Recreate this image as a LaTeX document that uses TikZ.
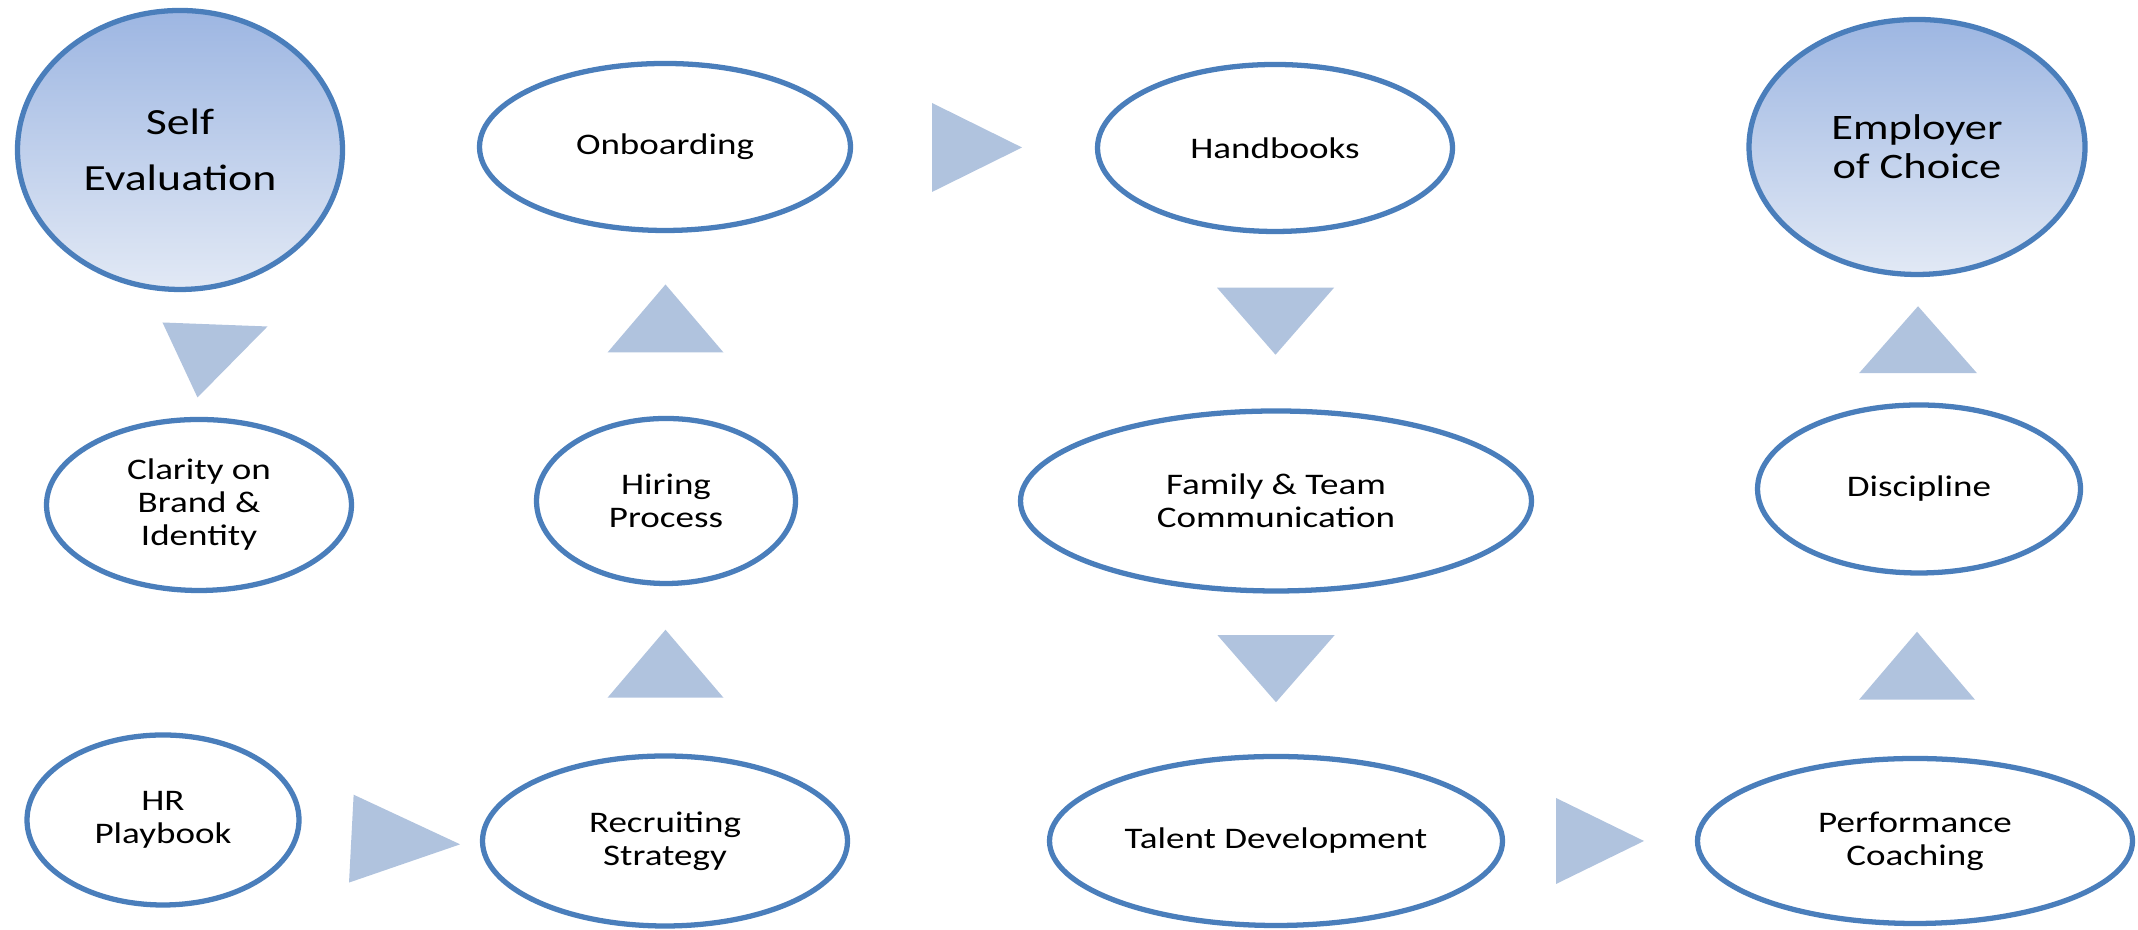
\documentclass[tikz,border=0pt]{standalone}
\usepackage{fontspec}
\setmainfont{Carlito}[FakeStretch=1.24]
\usetikzlibrary{shapes.geometric,calc}
\definecolor{rim}{HTML}{4A7EBB}
\definecolor{pale}{HTML}{B0C3DE}
\definecolor{skytop}{HTML}{9DB6E2}
\definecolor{skybot}{HTML}{E2E9F5}

\tikzset{
  bubble/.style={ellipse,draw=rim,line width=1.5pt,fill=white,inner sep=0pt,
    align=center,font=\fontsize{8.5}{9.4}\selectfont},
  goal/.style={bubble,top color=skytop,bottom color=skybot},
  % block arrow pointing right: #1 = base, #2 = length
  pics/flowtri/.style 2 args={code={
    \fill[pale] (-#2/2,-#1/2) -- (-#2/2,#1/2) -- (#2/2,0) -- cycle;}}
}

\begin{document}
\begin{tikzpicture}[x=0.1mm,y=0.1mm]
  \useasboundingbox (0,0) rectangle (2138,930);
  % start and end
  \node[goal,minimum width=32.5mm,minimum height=27.9mm,
    font=\fontsize{10.5}{16}\selectfont] (self) at (180,780) {Self\\Evaluation};
  \node[goal,minimum width=33.6mm,minimum height=25.5mm,
    font=\fontsize{10.2}{11.2}\selectfont] (emp) at (1917,783) {Employer\\of Choice};
  % steps
  \foreach \n/\x/\y/\w/\h/\t in {
    onb/665/783/37.1/16.7/Onboarding,
    hb/1275/782/35.5/16.7/Handbooks,
    clar/199/425/30.5/17.1/Clarity on\\Brand \&\\Identity,
    hire/666/429/25.9/16.5/Hiring\\Process,
    fam/1276/429/51.1/18.0/Family \& Team\\Communication,
    disc/1919/441/32.3/16.8/Discipline,
    hrp/163/110/27.2/17.0/HR\\Playbook,
    recr/665/89/36.5/17.0/Recruiting\\Strategy,
    tal/1276/89/45.3/16.9/Talent Development,
    perf/1915/89/43.5/16.5/Performance\\Coaching}{
    \node[bubble,minimum width=\w mm,minimum height=\h mm] (\n) at (\x,\y) {\t};
  }
  % block arrows between the steps
  \fill[pale] ($(self.south)!.5!(clar.north)$) ++(-27,32) -- ++(105,-4) -- ++(-70,-71) -- cycle;
  \pic[rotate=-3] at ($(hrp.east)!.5!(recr.west)+(15,-11)$) {flowtri={88}{109}};
  \pic[rotate=90] at ($(recr.north)!.5!(hire.south)+(0,6)$) {flowtri={116}{68}};
  \pic[rotate=90] at ($(hire.north)!.5!(onb.south)+(0,6)$) {flowtri={116}{68}};
  \pic at ($(onb.east)!.5!(hb.west)+(3,0)$) {flowtri={89}{90}};
  \pic[rotate=-90] at ($(hb.south)!.5!(fam.north)$) {flowtri={117}{67}};
  \pic[rotate=-90] at ($(fam.south)!.5!(tal.north)+(0,5)$) {flowtri={117}{67}};
  \pic at ($(tal.east)!.5!(perf.west)$) {flowtri={86}{88}};
  \pic[rotate=90] at ($(perf.north)!.5!(disc.south)$) {flowtri={116}{68}};
  \pic[rotate=90] at ($(disc.north)!.5!(emp.south)$) {flowtri={118}{67}};
\end{tikzpicture}
\end{document}
